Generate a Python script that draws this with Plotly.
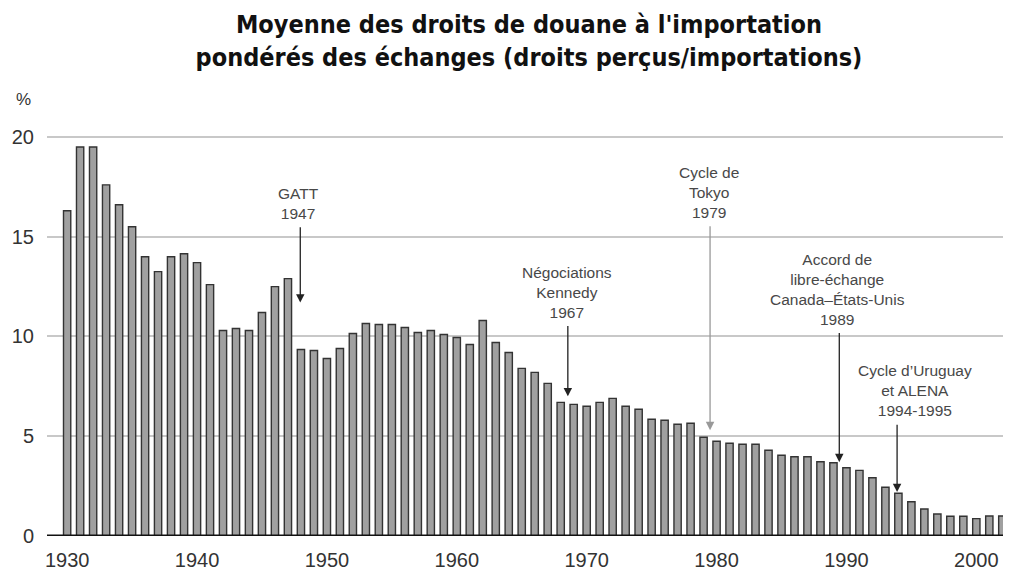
import plotly.graph_objects as go

years = list(range(1930, 2003))
tariffs = [
    16.3, 19.5, 19.5, 17.6, 16.6, 15.5, 14.0, 13.25, 14.0, 14.15,
    13.7, 12.6, 10.3, 10.4, 10.3, 11.2, 12.5, 12.9, 9.35, 9.3,
    8.9, 9.4, 10.15, 10.65, 10.6, 10.6, 10.45, 10.2, 10.3, 10.1,
    9.95, 9.6, 10.8, 9.7, 9.2, 8.4, 8.2, 7.65, 6.7, 6.6,
    6.5, 6.7, 6.9, 6.5, 6.35, 5.85, 5.8, 5.6, 5.65, 4.95,
    4.75, 4.65, 4.6, 4.6, 4.3, 4.05, 3.97, 3.97, 3.72, 3.67,
    3.42, 3.29, 2.92, 2.44, 2.14, 1.72, 1.35, 1.1, 0.99, 0.99,
    0.87, 1.0, 1.0,
]

# Event annotations: label, arrow x (year), arrow tail value, arrow tip value, label x (year)
event_labels = [
    "GATT<br>1947",
    "Négociations<br>Kennedy<br>1967",
    "Cycle de<br>Tokyo<br>1979",
    "Accord de<br>libre-échange<br>Canada–États-Unis<br>1989",
    "Cycle d’Uruguay<br>et ALENA<br>1994-1995",
]
event_arrow_x = [1947.95, 1968.55, 1979.5, 1989.45, 1993.9]
event_tail_y = [15.55, 10.6, 15.6, 10.25, 5.65]
event_tip_y = [11.7, 7.0, 5.3, 3.7, 2.2]
event_label_x = [1947.8, 1968.5, 1979.4, 1989.3, 1995.3]
event_line_colors = ["#222222", "#222222", "#999999", "#222222", "#222222"]

title_text = ("Moyenne des droits de douane à l'importation<br>"
              "pondérés des échanges (droits perçus/importations)")
y_ticks = [0, 5, 10, 15, 20]
x_ticks = [1930, 1940, 1950, 1960, 1970, 1980, 1990, 2000]

fig = go.Figure()
fig.add_trace(go.Bar(
    x=years, y=tariffs, width=0.56,
    marker=dict(color="#a0a0a0", line=dict(color="#333333", width=1.4)),
    hoverinfo="x+y",
))

annotations = []
for lab, axx, ty, tip, lx, lc in zip(event_labels, event_arrow_x, event_tail_y,
                                     event_tip_y, event_label_x, event_line_colors):
    annotations.append(dict(
        x=axx, y=tip, ax=axx, ay=ty, xref="x", yref="y", axref="x", ayref="y",
        text="", showarrow=True, arrowhead=2, arrowsize=1.3, arrowwidth=1.3,
        arrowcolor=lc,
    ))
    annotations.append(dict(
        x=lx, y=ty, xref="x", yref="y", text=lab, showarrow=False,
        xanchor="center", yanchor="bottom", yshift=2,
        font=dict(family="Liberation Sans, Arial, sans-serif", size=15.5, color="#484848"),
    ))

annotations.append(dict(
    xref="paper", yref="paper", x=-0.034, y=1.077, text="%", showarrow=False,
    xanchor="left", yanchor="middle",
    font=dict(family="Liberation Sans, Arial, sans-serif", size=17, color="#333333"),
))

fig.update_layout(
    width=1003, height=568,
    margin=dict(l=39, r=0, t=123, b=40),
    paper_bgcolor="white", plot_bgcolor="white",
    showlegend=False,
    title=dict(
        text=title_text, x=0.5, xref="paper", xanchor="center",
        y=1 - 25 / 568, yref="container", yanchor="middle",
        font=dict(family="Liberation Sans Narrow, DejaVu Sans Condensed, Liberation Sans, Arial",
                  size=25, color="#111111", weight="bold"),
    ),
    annotations=annotations,
    shapes=[dict(type="line", xref="paper", yref="y", x0=0, x1=1, y0=0, y1=0,
                 line=dict(color="#111111", width=3), layer="above")],
    bargap=0.45,
)
fig.update_xaxes(
    range=[1928.45, 2002.67], tickmode="array", tickvals=x_ticks,
    showgrid=False, zeroline=False, showline=False,
    ticks="outside", ticklen=6, tickcolor="rgba(0,0,0,0)",
    tickfont=dict(family="Liberation Sans, Arial, sans-serif", size=20, color="#333333"),
)
fig.update_yaxes(
    range=[0, 20.3], tickmode="array", tickvals=y_ticks,
    showgrid=True, gridcolor="#c8c8c8", gridwidth=2, zeroline=False, showline=False,
    ticks="outside", ticklen=8, tickcolor="rgba(0,0,0,0)",
    tickfont=dict(family="Liberation Sans, Arial, sans-serif", size=20, color="#333333"),
)

fig.write_html("out.html")
